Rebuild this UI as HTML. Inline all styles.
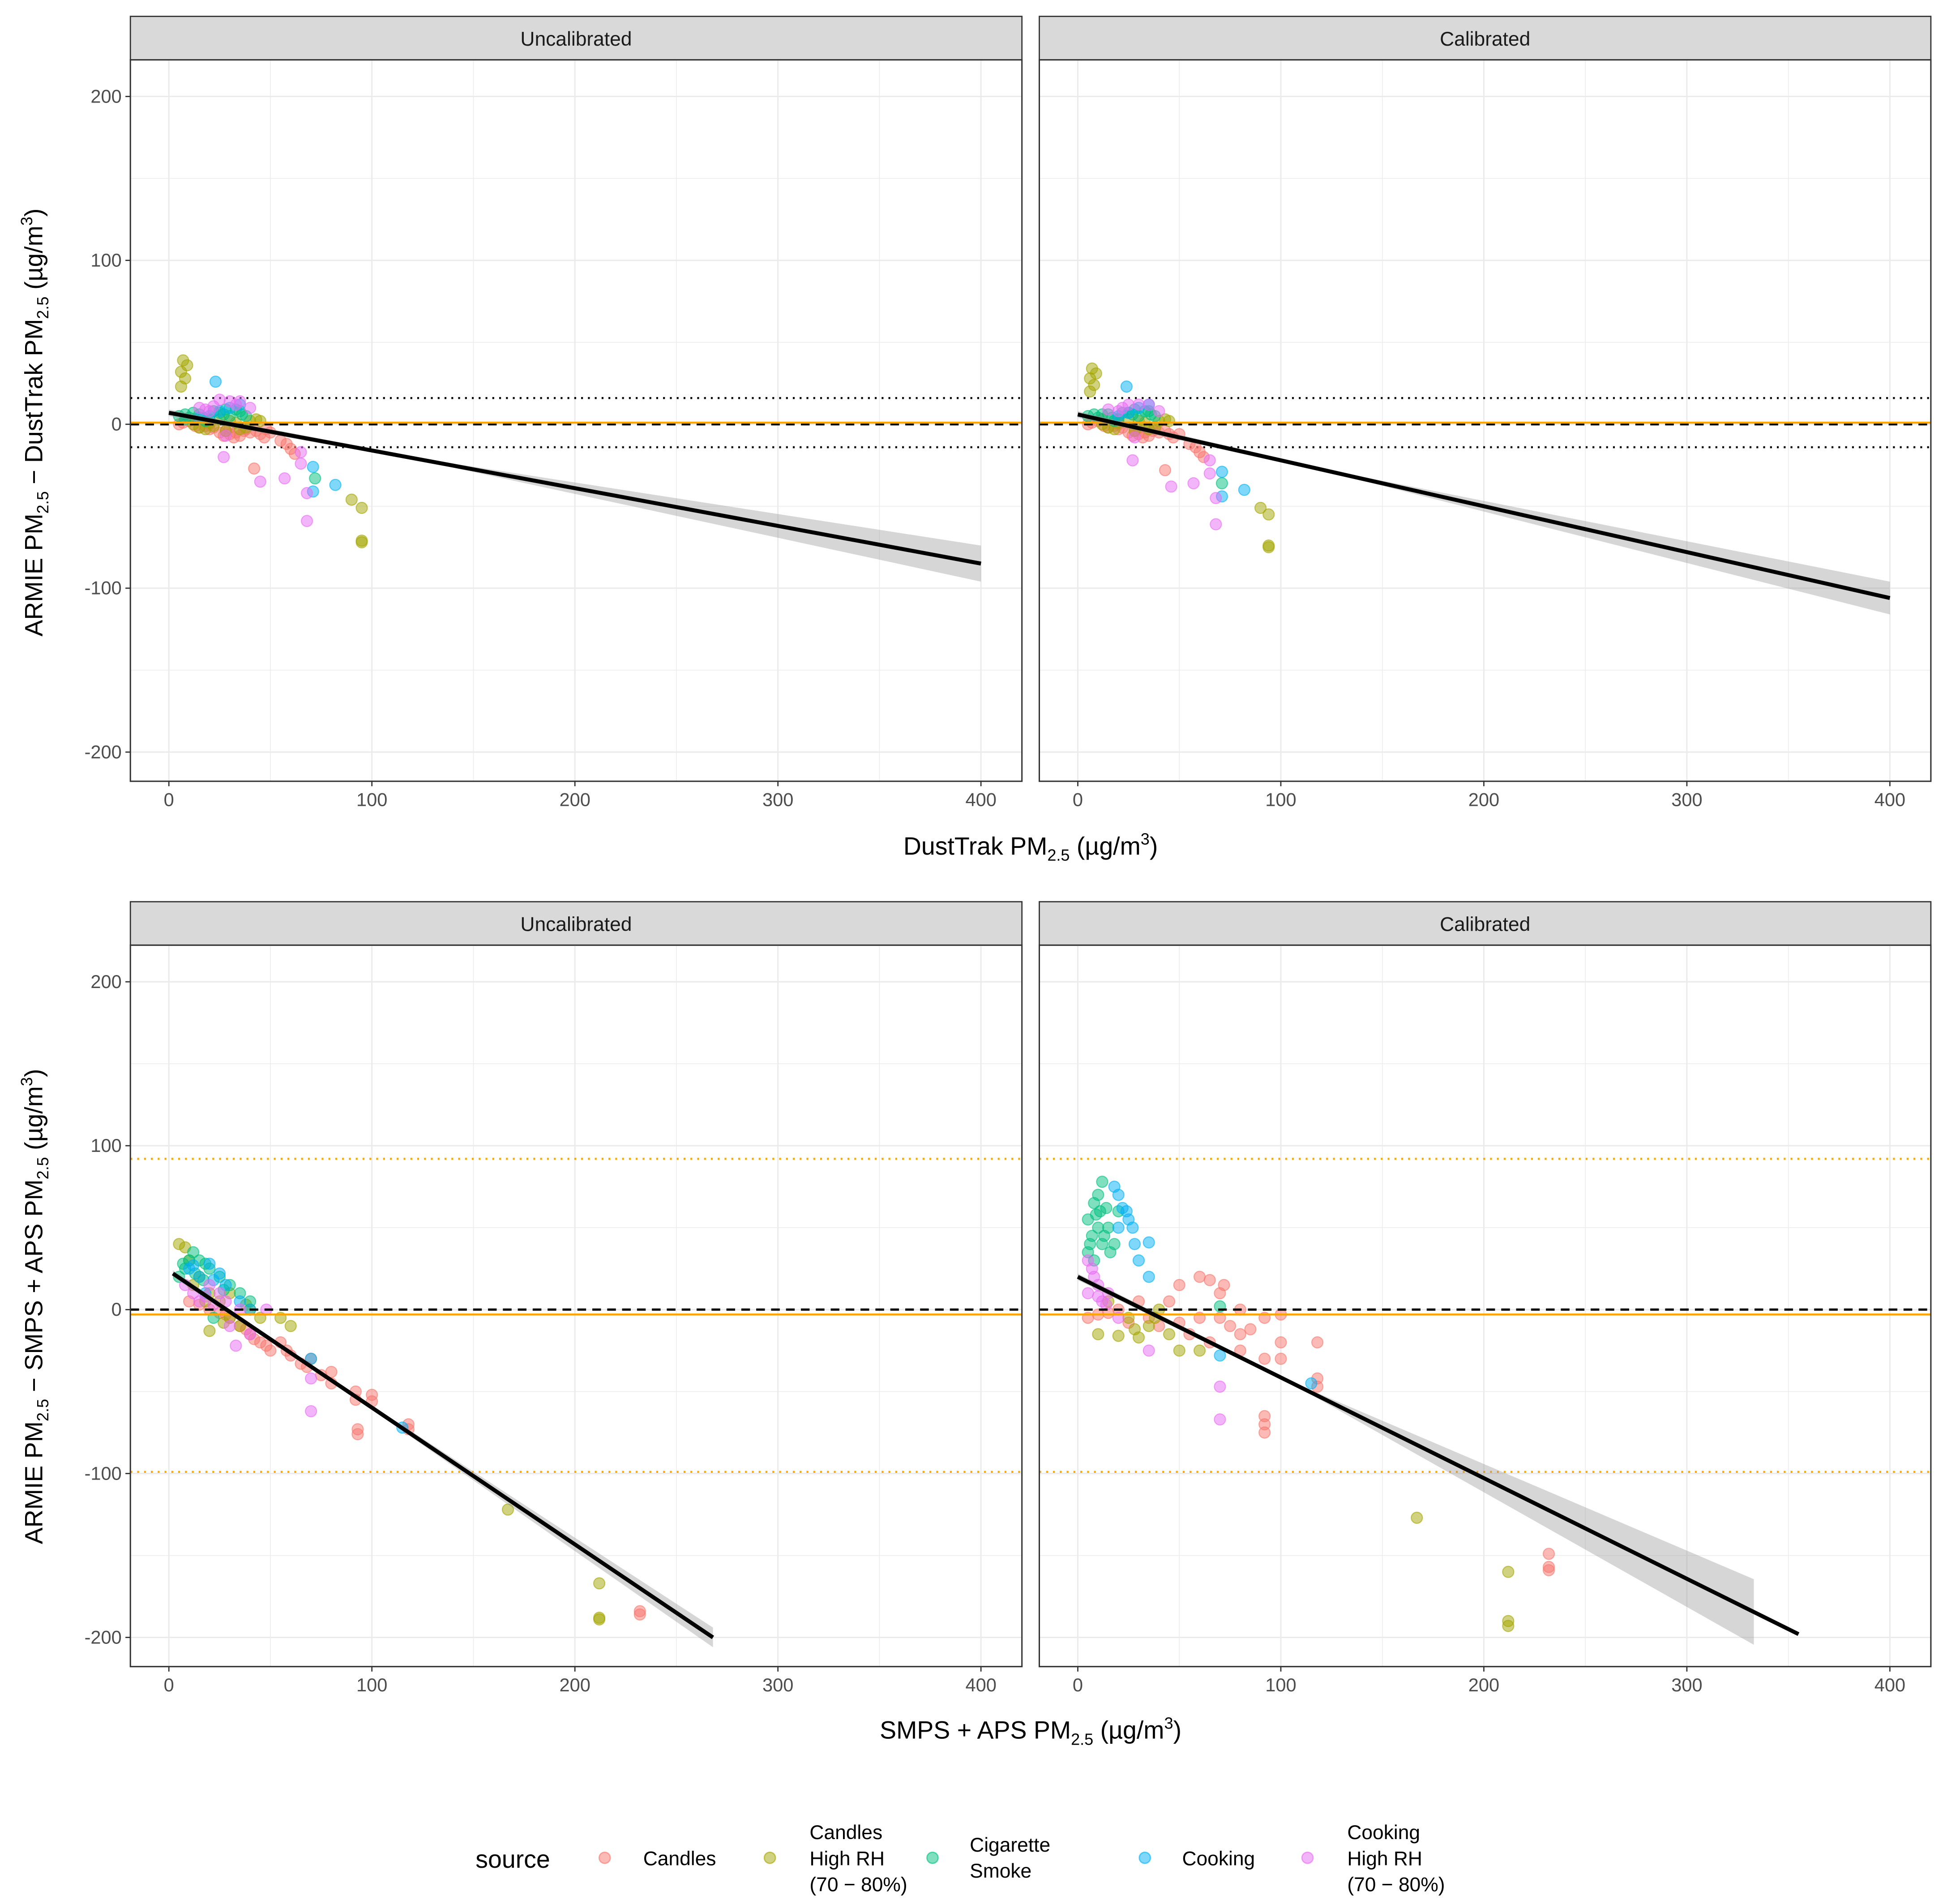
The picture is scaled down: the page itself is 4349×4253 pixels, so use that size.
<!DOCTYPE html>
<html><head><meta charset="utf-8"><style>
html,body{margin:0;padding:0;background:#fff}
svg{display:block}
text{font-family:"Liberation Sans",Arial,sans-serif}
</style></head><body>
<svg id="chart" width="4349" height="4253" viewBox="0 0 1568 1533" xmlns="http://www.w3.org/2000/svg">
<rect width="1568" height="1533" fill="#fff"/>
<g id="root"></g>
</svg>
<script>
const sources=["Candles","Candles High RH","Cigarette Smoke","Cooking","Cooking High RH"];
const colors=["#F8766D","#A3A500","#00BF7D","#00B0F6","#E76BF3"];
const xTicks=[0,100,200,300,400];
const yTicks=[200,100,0,-100,-200];
const panelTitles=["Uncalibrated","Calibrated","Uncalibrated","Calibrated"];
// points per panel: [candles, candlesRH, cig, cooking, cookingRH]
const tlPoints=[
[[5,0],[7,1],[10,2],[13,-1],[15,-2],[18,-1],[20,-3],[22,-2],[25,-5],[28,-4],[30,-6],[33,-5],[35,-7],[37,-4],[40,-5],[43,-4],[45,-6],[47,-8],[48,-3],[55,-10],[58,-12],[60,-15],[62,-18],[42,-27],[30,-2],[20,0],[12,3],[38,-3],[50,-5],[27,-7],[32,-8]],
[[7,39],[9,36],[6,32],[8,28],[6,23],[15,-2],[20,1],[25,3],[30,2],[35,-3],[40,2],[45,2],[90,-46],[95,-51],[95,-71],[95,-72],[12,0],[28,-4],[18,-3],[33,1],[38,-2],[43,3],[22,-1]],
[[5,5],[8,6],[10,4],[12,7],[15,6],[17,4],[20,3],[22,8],[25,7],[27,6],[30,5],[33,9],[35,8],[38,5],[72,-33],[18,2],[28,9],[36,6],[8,3]],
[[23,26],[71,-26],[71,-41],[82,-37],[30,10],[20,5],[35,12],[25,8],[15,4]],
[[27,-20],[45,-35],[57,-33],[65,-17],[65,-24],[68,-42],[68,-59],[25,15],[30,14],[35,14],[20,8],[15,10],[40,10],[28,-7],[22,11],[33,12],[18,9]]];
const trPoints=[
[[5,0],[7,1],[10,2],[13,-1],[15,-2],[18,-1],[20,-3],[22,-2],[25,-5],[28,-4],[30,-6],[33,-5],[35,-7],[37,-4],[40,-5],[43,-4],[45,-6],[47,-8],[55,-12],[58,-14],[60,-17],[62,-20],[43,-28],[30,-2],[20,0],[12,3],[38,-3],[50,-6],[27,-7],[32,-8]],
[[7,34],[9,31],[6,28],[8,24],[6,20],[15,-2],[20,1],[25,3],[30,2],[35,-3],[40,2],[45,2],[90,-51],[94,-55],[94,-74],[94,-75],[12,0],[28,-4],[18,-3],[33,1],[38,-2],[43,3]],
[[5,5],[8,6],[10,4],[12,6],[15,6],[17,4],[20,3],[22,7],[25,7],[27,6],[30,5],[33,8],[35,8],[38,5],[71,-36],[18,2],[28,9],[36,6]],
[[24,23],[71,-29],[71,-44],[82,-40],[30,10],[20,5],[35,12],[25,7]],
[[27,-22],[46,-38],[57,-36],[65,-22],[65,-30],[68,-45],[68,-61],[25,12],[30,12],[35,12],[20,8],[15,9],[40,8],[28,-8],[22,10]]];
const blPoints=[
[[10,5],[20,0],[30,-5],[40,-15],[45,-20],[50,-25],[55,-20],[60,-28],[65,-33],[70,-30],[75,-40],[80,-38],[80,-45],[92,-50],[92,-55],[93,-73],[93,-76],[100,-52],[100,-56],[118,-70],[118,-73],[232,-184],[232,-186],[35,-10],[25,-2],[15,3],[42,-18],[48,-22],[58,-25],[68,-35],[38,-12],[28,-3]],
[[5,40],[8,38],[10,30],[15,20],[20,-13],[25,5],[30,-5],[35,-10],[40,0],[45,-5],[55,-5],[60,-10],[167,-122],[212,-167],[212,-188],[212,-189],[20,10],[30,10],[12,15],[18,5],[27,-8],[38,3]],
[[8,25],[10,30],[12,35],[15,30],[18,28],[20,25],[25,20],[30,15],[35,10],[40,5],[5,20],[22,-5],[7,28],[13,22],[17,18],[27,12]],
[[10,25],[15,20],[20,28],[25,22],[28,15],[35,5],[40,0],[70,-30],[115,-72],[18,10],[12,27],[22,18]],
[[8,15],[12,10],[15,5],[20,15],[25,10],[30,-10],[33,-22],[40,-15],[48,0],[70,-42],[70,-62],[28,5],[18,8],[22,3],[35,0]]];
const brPoints=[
[[5,-5],[10,-3],[20,0],[30,5],[40,-10],[50,15],[55,-15],[60,20],[65,18],[65,-20],[70,10],[72,15],[75,-10],[80,-15],[80,0],[92,-5],[92,-30],[92,-65],[92,-70],[92,-75],[100,-20],[100,-3],[118,-20],[118,-42],[118,-47],[232,-149],[232,-157],[232,-159],[45,5],[35,-5],[60,-5],[80,-25],[100,-30],[15,-2],[25,-8],[50,-8],[70,-5],[85,-12]],
[[10,-15],[20,-16],[25,-5],[30,-17],[35,-10],[40,0],[45,-15],[50,-25],[60,-25],[167,-127],[212,-160],[212,-190],[212,-193],[15,5],[28,-12],[38,-5]],
[[5,55],[7,45],[8,65],[10,70],[12,78],[14,62],[15,50],[18,40],[20,60],[8,30],[12,40],[16,35],[5,35],[10,50],[70,2],[6,40],[9,58],[13,45],[11,60]],
[[18,75],[20,70],[22,62],[25,55],[27,50],[28,40],[30,30],[35,20],[35,41],[20,50],[115,-45],[70,-28],[24,60]],
[[5,10],[8,20],[10,15],[12,5],[15,10],[35,-25],[70,-47],[70,-67],[5,30],[20,-5],[7,25],[10,8],[14,3]]];
// regression: [x0,y0,x1,y1, bandHalfAtEnd]
const fits=[[0,7,400,-85,11],[0,6,400,-106,10],[2,22,268,-200,6],[0,20,355,-198,20]];
const meanBias=[1,1,-3,-3];
const loaLow=[-14,-14,-99,-99];
const loaHigh=[16,16,92,92];
const loaColor=["#000","#000","#FFA500","#FFA500"];

const NS="http://www.w3.org/2000/svg";
const root=document.getElementById('root');
function el(tag,attrs,parent){const e=document.createElementNS(NS,tag);for(const k in attrs)e.setAttribute(k,attrs[k]);(parent||root).appendChild(e);return e;}
const panels=[
 {x0:105,x1:823,y0:48,y1:629,sy:13,pts:tlPoints},
 {x0:837,x1:1555,y0:48,y1:629,sy:13,pts:trPoints},
 {x0:105,x1:823,y0:761,y1:1342,sy:726,pts:blPoints},
 {x0:837,x1:1555,y0:761,y1:1342,sy:726,pts:brPoints}];
panels.forEach((p,i)=>{
 const zx=p.x0+31, kx=(654/400);
 const X=v=>zx+v*kx;
 const zy=(p.y0+p.y1)/2+3, ky=1.32;
 const Y=v=>zy-v*ky;
 const g=el('g',{});
 
 
 const clipId='clip'+i;
 const cp=el('clipPath',{id:clipId},g);el('rect',{x:p.x0,y:p.y0,width:p.x1-p.x0,height:p.y1-p.y0},cp);
 const strip=el('rect',{x:p.x0,y:p.sy,width:p.x1-p.x0,height:p.y0-p.sy,fill:'#d9d9d9',stroke:'#333','stroke-width':1},g);
 
 
 const st=el('text',{x:(p.x0+p.x1)/2,y:(p.sy+p.y0)/2+6,'text-anchor':'middle','font-size':16,fill:'#1a1a1a'},g);st.textContent=panelTitles[i];
 
 
 for(let v=-250;v<=250;v+=50){const yy=Y(v);if(yy<p.y0||yy>p.y1)continue;el('line',{x1:p.x0,x2:p.x1,y1:yy,y2:yy,stroke:'#ebebeb','stroke-width':v%100===0?1.1:0.55},g);}
 for(let v=-50;v<=450;v+=50){const xx=X(v);if(xx<p.x0||xx>p.x1)continue;el('line',{y1:p.y0,y2:p.y1,x1:xx,x2:xx,stroke:'#ebebeb','stroke-width':v%100===0?1.1:0.55},g);}
 const cg=el('g',{'clip-path':'url(#'+clipId+')'},g);
 el('line',{x1:p.x0,x2:p.x1,y1:Y(loaHigh[i]),y2:Y(loaHigh[i]),stroke:loaColor[i],'stroke-width':1.6,'stroke-dasharray':'1.5 4'},cg);
 el('line',{x1:p.x0,x2:p.x1,y1:Y(loaLow[i]),y2:Y(loaLow[i]),stroke:loaColor[i],'stroke-width':1.6,'stroke-dasharray':'1.5 4'},cg);
 p.pts.forEach((arr,s)=>arr.forEach(pt=>{
  const c=el('circle',{cx:X(pt[0]),cy:Y(pt[1]),r:4.5,fill:colors[s],'fill-opacity':0.5,stroke:colors[s],'stroke-opacity':0.6,'stroke-width':0.8},cg);
  
  
 }));
 el('line',{x1:p.x0,x2:p.x1,y1:Y(0),y2:Y(0),stroke:'#000','stroke-width':1.8,'stroke-dasharray':'7 5'},cg);
 el('line',{x1:p.x0,x2:p.x1,y1:Y(meanBias[i]),y2:Y(meanBias[i]),stroke:'#FFA500','stroke-width':1.6},cg);
 const f=fits[i];
 const bx1=(i===3)?333:f[2];const by1=f[1]+(f[3]-f[1])*(bx1-f[0])/(f[2]-f[0]);
 const bm=(f[0]+bx1)/3, bmy=f[1]+(f[3]-f[1])*(bm-f[0])/(f[2]-f[0]);
 el('path',{d:`M${X(f[0])},${Y(f[1]+2)} L${X(bm)},${Y(bmy+1)} L${X(bx1)},${Y(by1+f[4])} L${X(bx1)},${Y(by1-f[4])} L${X(bm)},${Y(bmy-1)} L${X(f[0])},${Y(f[1]-2)} Z`,fill:'#999','fill-opacity':0.4},cg);
 const rl=el('line',{x1:X(f[0]),y1:Y(f[1]),x2:X(f[2]),y2:Y(f[3]),stroke:'#000','stroke-width':3.2},cg);
 
 
 el('rect',{x:p.x0,y:p.y0,width:p.x1-p.x0,height:p.y1-p.y0,fill:'none',stroke:'#333','stroke-width':1.1},g);
 xTicks.forEach(t=>{el('line',{x1:X(t),x2:X(t),y1:p.y1,y2:p.y1+4,stroke:'#333'},g);
  const tx=el('text',{x:X(t),y:p.y1+20,'text-anchor':'middle','font-size':15,fill:'#4d4d4d'},g);tx.textContent=t;
  
  });
 if(i%2===0) yTicks.forEach(t=>{el('line',{x1:p.x0-4,x2:p.x0,y1:Y(t),y2:Y(t),stroke:'#333'},g);
  const ty=el('text',{x:p.x0-7,y:Y(t)+5,'text-anchor':'end','font-size':15,fill:'#4d4d4d'},g);ty.textContent=t;
  
  });
});
</script>
<svg x="0" y="0" width="4349" height="4253" viewBox="0 0 1568 1533" style="position:absolute;left:0;top:0" xmlns="http://www.w3.org/2000/svg">
<text x="830" y="688" text-anchor="middle" font-size="20" fill="#000" font-family="Liberation Sans, sans-serif">DustTrak PM<tspan font-size="13" dy="5">2.5</tspan><tspan dy="-5"> (µg/m</tspan><tspan font-size="13" dy="-8">3</tspan><tspan dy="8">)</tspan></text>
<text x="830" y="1400" text-anchor="middle" font-size="20" fill="#000" font-family="Liberation Sans, sans-serif">SMPS + APS PM<tspan font-size="13" dy="5">2.5</tspan><tspan dy="-5"> (µg/m</tspan><tspan font-size="13" dy="-8">3</tspan><tspan dy="8">)</tspan></text>
<text transform="translate(34,340) rotate(-90)" text-anchor="middle" font-size="20" fill="#000" font-family="Liberation Sans, sans-serif">ARMIE PM<tspan font-size="13" dy="5">2.5</tspan><tspan dy="-5"> − DustTrak PM</tspan><tspan font-size="13" dy="5">2.5</tspan><tspan dy="-5"> (µg/m</tspan><tspan font-size="13" dy="-8">3</tspan><tspan dy="8">)</tspan></text>
<text transform="translate(34,1052) rotate(-90)" text-anchor="middle" font-size="20" fill="#000" font-family="Liberation Sans, sans-serif">ARMIE PM<tspan font-size="13" dy="5">2.5</tspan><tspan dy="-5"> − SMPS + APS PM</tspan><tspan font-size="13" dy="5">2.5</tspan><tspan dy="-5"> (µg/m</tspan><tspan font-size="13" dy="-8">3</tspan><tspan dy="8">)</tspan></text>
<g font-family="Liberation Sans, sans-serif" fill="#000">
<text x="383" y="1504" font-size="20">source</text>
<g><circle cx="487" cy="1496" r="4.5" fill="#F8766D" fill-opacity="0.5" stroke="#F8766D" stroke-opacity="0.6"/><text x="518" y="1502" font-size="16">Candles</text></g>
<g><circle cx="620" cy="1496" r="4.5" fill="#A3A500" fill-opacity="0.5" stroke="#A3A500" stroke-opacity="0.6"/><text x="652" y="1481" font-size="16">Candles</text><text x="652" y="1502" font-size="16">High RH</text><text x="652" y="1523" font-size="16">(70 − 80%)</text></g>
<g><circle cx="751" cy="1496" r="4.5" fill="#00BF7D" fill-opacity="0.5" stroke="#00BF7D" stroke-opacity="0.6"/><text x="781" y="1491" font-size="16">Cigarette</text><text x="781" y="1512" font-size="16">Smoke</text></g>
<g><circle cx="922" cy="1496" r="4.5" fill="#00B0F6" fill-opacity="0.5" stroke="#00B0F6" stroke-opacity="0.6"/><text x="952" y="1502" font-size="16">Cooking</text></g>
<g><circle cx="1053" cy="1496" r="4.5" fill="#E76BF3" fill-opacity="0.5" stroke="#E76BF3" stroke-opacity="0.6"/><text x="1085" y="1481" font-size="16">Cooking</text><text x="1085" y="1502" font-size="16">High RH</text><text x="1085" y="1523" font-size="16">(70 − 80%)</text></g>
</g>
</svg>
</body></html>
